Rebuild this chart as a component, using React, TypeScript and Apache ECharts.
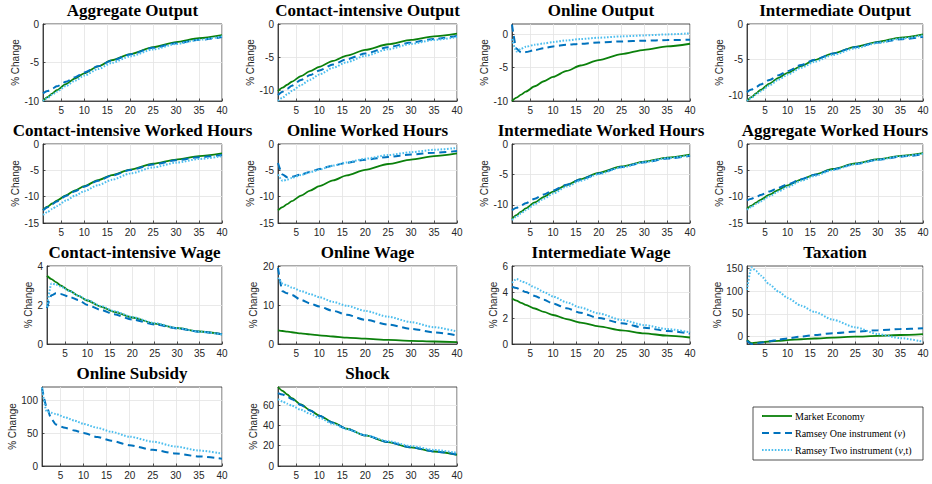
import React, { useEffect, useRef } from "react";
import * as echarts from "echarts";

// sampled periods (x positions of the read points)
const X = [1, 2, 3, 4, 6, 8, 10, 13, 16, 20, 25, 30, 35, 40];
const xTicks = [5, 10, 15, 20, 25, 30, 35, 40];

const seriesNames = ["Market Economy", "Ramsey One instrument (ν)", "Ramsey Two instrument (ν,t)"];

// 1 Aggregate Output
const aggOutMarket = [-10, -9.5, -9.05, -8.6, -7.8, -7.05, -6.4, -5.5, -4.7, -3.9, -3.0, -2.35, -1.85, -1.45];
const aggOutOne = [-9.0, -8.7, -8.4, -8.1, -7.5, -6.9, -6.3, -5.5, -4.75, -3.95, -3.1, -2.5, -2.05, -1.7];
const aggOutTwo = [-10, -9.6, -9.2, -8.8, -8.05, -7.35, -6.7, -5.85, -5.05, -4.2, -3.3, -2.6, -2.05, -1.6];
// 2 Contact-intensive Output
const ciOutMarket = [-10.1, -9.6, -9.15, -8.7, -7.85, -7.1, -6.45, -5.55, -4.75, -3.9, -3.05, -2.4, -1.85, -1.45];
const ciOutOne = [-10.7, -10.2, -9.75, -9.3, -8.45, -7.7, -7.0, -6.1, -5.3, -4.45, -3.5, -2.8, -2.25, -1.8];
const ciOutTwo = [-11.6, -11.1, -10.6, -10.1, -9.2, -8.4, -7.6, -6.6, -5.75, -4.8, -3.8, -3.0, -2.4, -1.95];
// 3 Online Output
const onOutMarket = [-10, -9.5, -9.05, -8.6, -7.8, -7.05, -6.4, -5.5, -4.7, -3.9, -3.0, -2.35, -1.85, -1.45];
const onOutOne = [1.4, -2.2, -2.75, -2.7, -2.4, -2.1, -1.85, -1.6, -1.45, -1.25, -1.1, -1.0, -0.9, -0.85];
const onOutTwo = [-0.75, -2.6, -2.2, -1.9, -1.6, -1.4, -1.2, -0.95, -0.75, -0.55, -0.35, -0.2, -0.05, 0.1];
// 4 Intermediate Output
const imOutMarket = [-10.8, -10.25, -9.75, -9.25, -8.35, -7.55, -6.85, -5.9, -5.05, -4.15, -3.2, -2.5, -1.9, -1.45];
const imOutOne = [-9.55, -9.2, -8.85, -8.5, -7.85, -7.2, -6.6, -5.75, -5.0, -4.15, -3.25, -2.6, -2.15, -1.8];
const imOutTwo = [-10.8, -10.35, -9.9, -9.45, -8.6, -7.8, -7.1, -6.15, -5.3, -4.35, -3.4, -2.65, -2.05, -1.6];
// 5 Contact-intensive Worked Hours
const ciHrsMarket = [-12.5, -11.9, -11.3, -10.75, -9.75, -8.8, -8.0, -6.85, -5.9, -4.85, -3.75, -2.95, -2.3, -1.8];
const ciHrsOne = [-12.6, -12.0, -11.45, -10.9, -9.85, -8.95, -8.1, -7.0, -6.0, -4.95, -3.9, -3.1, -2.5, -2.1];
const ciHrsTwo = [-13.5, -12.9, -12.35, -11.8, -10.75, -9.8, -8.95, -7.8, -6.8, -5.6, -4.45, -3.55, -2.85, -2.3];
// 6 Online Worked Hours
const onHrsMarket = [-12.6, -12.0, -11.4, -10.85, -9.8, -8.85, -8.0, -6.9, -5.95, -4.9, -3.8, -2.95, -2.3, -1.8];
const onHrsOne = [-3.6, -5.8, -6.3, -6.2, -5.8, -5.3, -4.75, -4.1, -3.55, -3.0, -2.45, -2.0, -1.65, -1.35];
const onHrsTwo = [-5.8, -7.0, -6.75, -6.45, -5.9, -5.35, -4.85, -4.1, -3.5, -2.8, -2.1, -1.55, -1.1, -0.75];
// 7 Intermediate Worked Hours
const imHrsMarket = [-12.3, -11.7, -11.15, -10.6, -9.6, -8.7, -7.85, -6.75, -5.8, -4.75, -3.7, -2.9, -2.25, -1.75];
const imHrsOne = [-10.9, -10.5, -10.1, -9.75, -9.0, -8.3, -7.65, -6.7, -5.85, -4.85, -3.8, -3.0, -2.4, -1.95];
const imHrsTwo = [-12.5, -11.95, -11.4, -10.9, -9.9, -9.0, -8.15, -7.0, -6.05, -4.95, -3.85, -3.0, -2.35, -1.85];
// 8 Aggregate Worked Hours
const aggHrsMarket = [-12.3, -11.7, -11.15, -10.6, -9.6, -8.7, -7.85, -6.75, -5.8, -4.75, -3.7, -2.9, -2.25, -1.75];
const aggHrsOne = [-10.7, -10.4, -10.05, -9.7, -9.0, -8.3, -7.65, -6.7, -5.85, -4.85, -3.8, -3.0, -2.4, -1.95];
const aggHrsTwo = [-12.5, -11.95, -11.4, -10.9, -9.9, -9.0, -8.15, -7.0, -6.05, -4.95, -3.85, -3.0, -2.35, -1.85];
// 9 Contact-intensive Wage
const ciWageMarket = [3.5, 3.33, 3.17, 3.01, 2.73, 2.47, 2.23, 1.92, 1.65, 1.36, 1.05, 0.82, 0.64, 0.5];
const ciWageOne = [1.85, 2.5, 2.6, 2.57, 2.42, 2.25, 2.0, 1.75, 1.52, 1.25, 1.0, 0.8, 0.63, 0.5];
const ciWageTwo = [1.9, 3.1, 3.05, 2.95, 2.72, 2.48, 2.25, 1.95, 1.68, 1.38, 1.07, 0.82, 0.63, 0.48];
// 10 Online Wage
const onWageMarket = [3.5, 3.33, 3.17, 3.01, 2.73, 2.47, 2.23, 1.92, 1.65, 1.36, 1.05, 0.82, 0.64, 0.5];
const onWageOne = [19.5, 13.5, 13.0, 12.6, 11.3, 10.4, 9.6, 8.5, 7.5, 6.2, 5.0, 3.9, 3.0, 2.2];
const onWageTwo = [17, 15.5, 15.0, 14.5, 13.6, 12.8, 12.0, 10.8, 9.8, 8.5, 7.0, 5.6, 4.3, 3.2];
// 11 Intermediate Wage
const imWageMarket = [3.5, 3.33, 3.17, 3.01, 2.73, 2.47, 2.23, 1.92, 1.65, 1.36, 1.05, 0.82, 0.64, 0.5];
const imWageOne = [4.4, 4.3, 4.15, 4.0, 3.7, 3.4, 3.1, 2.75, 2.4, 2.0, 1.6, 1.25, 1.0, 0.8];
const imWageTwo = [4.7, 5.0, 4.85, 4.7, 4.35, 4.0, 3.65, 3.2, 2.8, 2.35, 1.85, 1.45, 1.15, 0.9];
// 12 Taxation
const taxMarket = [-8, -15, -14, -13, -11.5, -10, -8.5, -6.5, -4.8, -2.8, -0.8, 1.0, 3.0, 5.0];
const taxOne = [-10, -17, -16, -14, -11, -7.5, -4.5, -0.5, 3, 7, 10.5, 13.5, 16, 18];
const taxTwo = [103, 153, 145, 135, 115, 99, 85, 68, 54, 37, 20, 5, -4, -12];
// 13 Online Subsidy
const subOne = [119, 90, 72, 63, 58, 54, 50, 44, 38.5, 31.5, 24.5, 19, 14.5, 11];
const subTwo = [119, 83, 81, 79, 74, 69, 64, 58, 52, 44.5, 37, 29.5, 23.5, 19];
// 14 Shock
const shockMarket = [78, 74.2, 70.6, 67.1, 60.7, 55.0, 49.8, 42.8, 36.8, 30.2, 23.5, 18.3, 14.3, 11.1];
const shockOne = [72, 70.5, 68.5, 66, 60.3, 54.7, 49.5, 42.7, 36.7, 30.2, 23.6, 18.4, 14.4, 11.2];
const shockTwo = [66, 63.5, 61.5, 59.5, 55.5, 51.5, 47.5, 41.5, 36.3, 30.5, 24.5, 19.7, 15.9, 13];

const panels = [
  { title: "Aggregate Output", min: -10, max: 0, ticks: [-10, -5, 0], data: [aggOutMarket, aggOutOne, aggOutTwo] },
  { title: "Contact-intensive Output", min: -11.6, max: 0, ticks: [-10, -5, 0], data: [ciOutMarket, ciOutOne, ciOutTwo] },
  { title: "Online Output", min: -10, max: 1.5, ticks: [-10, -5, 0], data: [onOutMarket, onOutOne, onOutTwo] },
  { title: "Intermediate Output", min: -10.8, max: 0, ticks: [-10, -5, 0], data: [imOutMarket, imOutOne, imOutTwo] },
  { title: "Contact-intensive Worked Hours", min: -15, max: 0, ticks: [-15, -10, -5, 0], data: [ciHrsMarket, ciHrsOne, ciHrsTwo] },
  { title: "Online Worked Hours", min: -15, max: 0, ticks: [-15, -10, -5, 0], data: [onHrsMarket, onHrsOne, onHrsTwo] },
  { title: "Intermediate Worked Hours", min: -13, max: 0, ticks: [-10, -5, 0], data: [imHrsMarket, imHrsOne, imHrsTwo] },
  { title: "Aggregate Worked Hours", min: -15, max: 0, ticks: [-15, -10, -5, 0], data: [aggHrsMarket, aggHrsOne, aggHrsTwo] },
  { title: "Contact-intensive Wage", min: 0, max: 4, ticks: [0, 2, 4], data: [ciWageMarket, ciWageOne, ciWageTwo] },
  { title: "Online Wage", min: 0, max: 20, ticks: [0, 10, 20], data: [onWageMarket, onWageOne, onWageTwo] },
  { title: "Intermediate Wage", min: 0, max: 6, ticks: [0, 2, 4, 6], data: [imWageMarket, imWageOne, imWageTwo] },
  { title: "Taxation", min: -17, max: 156, ticks: [0, 50, 100, 150], data: [taxMarket, taxOne, taxTwo] },
  { title: "Online Subsidy", min: 0, max: 120, ticks: [0, 50, 100], data: [null, subOne, subTwo] },
  { title: "Shock", min: 0, max: 78, ticks: [0, 20, 40, 60], data: [shockMarket, shockOne, shockTwo] },
];

// layout (pixels)
const colLeft = [43, 278, 512, 747];
const colRight = [222, 457, 690, 923];
const rowTop = [24, 144, 266, 387];
const rowBottom = [101, 223, 344, 466];
const leftOverride: Record<number, number> = { 8: 47, 12: 42 };
const nameGaps = [18, 18, 17, 19, 18, 19, 18, 18, 14, 16, 14, 21, 19, 14];

const COLORS = ["#0b800b", "#0072BD", "#4DBEEE"];
const LINE_TYPES: any[] = ["solid", [7, 4.5], [1.6, 1.6]];
const TXT = "#262626";
const SANS = "'Liberation Sans', Arial, Helvetica, sans-serif";
const SERIF = "'Liberation Serif', 'Times New Roman', serif";

// legend box (pixels)
const LEG = { x: 753, y: 407, w: 170, h: 53 };

export default function App() {
  const ref = useRef<HTMLDivElement>(null);
  useEffect(() => {
    if (!ref.current) return;
    const chart = echarts.init(ref.current, undefined, { renderer: "svg" });
    const grids: any[] = [];
    const xAxes: any[] = [];
    const yAxes: any[] = [];
    const series: any[] = [];
    const graphics: any[] = [];
    panels.forEach((p, i) => {
      const r = Math.floor(i / 4);
      const c = i % 4;
      const left = leftOverride[i] ?? colLeft[c];
      const right = colRight[c];
      const top = rowTop[r];
      const bottom = rowBottom[r];
      grids.push({
        left,
        top,
        width: right - left,
        height: bottom - top,
        show: true,
        borderColor: TXT,
        borderWidth: 0.8,
        backgroundColor: "#fff",
      });
      xAxes.push({
        type: "value",
        gridIndex: i,
        min: 1,
        max: 40,
        axisLine: { show: true, onZero: false, lineStyle: { color: TXT, width: 0.8 } },
        axisTick: { show: true, inside: true, length: 2.5, customValues: xTicks, lineStyle: { color: TXT, width: 0.8 } },
        axisLabel: { customValues: xTicks, color: TXT, fontSize: 10, fontFamily: SANS, margin: 4, showMinLabel: true, showMaxLabel: true },
        splitLine: { show: true, lineStyle: { color: "#e3e3e3", width: 0.8 } },
      });
      yAxes.push({
        type: "value",
        gridIndex: i,
        min: p.min,
        max: p.max,
        name: "% Change",
        nameLocation: "middle",
        nameGap: nameGaps[i],
        nameTextStyle: { color: TXT, fontSize: 10, fontFamily: SANS },
        axisLine: { show: true, onZero: false, lineStyle: { color: TXT, width: 0.8 } },
        axisTick: { show: true, inside: true, length: 2.5, customValues: p.ticks, lineStyle: { color: TXT, width: 0.8 } },
        axisLabel: { customValues: p.ticks, color: TXT, fontSize: 10, fontFamily: SANS, margin: 4, showMinLabel: true, showMaxLabel: true },
        splitLine: { show: true, lineStyle: { color: "#e3e3e3", width: 0.8 } },
      });
      p.data.forEach((arr, k) => {
        if (!arr) return;
        series.push({
          type: "line",
          name: seriesNames[k],
          xAxisIndex: i,
          yAxisIndex: i,
          data: X.map((x, j) => [x, arr[j]]),
          showSymbol: false,
          symbol: "none",
          smooth: 0.25,
          smoothMonotone: "x",
          clip: true,
          lineStyle: { color: COLORS[k], width: k === 0 ? 1.8 : 2, type: LINE_TYPES[k] },
          itemStyle: { color: COLORS[k] },
          z: 2 + k,
        });
      });
      graphics.push({
        type: "text",
        x: (left + right) / 2,
        y: top - 13.5,
        style: {
          text: p.title,
          textAlign: "center",
          textVerticalAlign: "middle",
          fontFamily: SERIF,
          fontWeight: "bold",
          fontSize: 17,
          fill: "#000",
        },
      });
    });

    // legend drawn as graphics (box, line samples, labels)
    graphics.push({
      type: "rect",
      shape: { x: LEG.x, y: LEG.y, width: LEG.w, height: LEG.h },
      style: { fill: "#fff", stroke: TXT, lineWidth: 0.8 },
      z: 10,
    });
    const legendLabels = [
      "{t|Market Economy}",
      "{t|Ramsey One instrument (}{i|ν}{t|)}",
      "{t|Ramsey Two instrument (}{i|ν}{t|,t)}",
    ];
    const legendDash: any[] = [null, [7, 4.5], [1.6, 1.6]];
    legendLabels.forEach((lab, k) => {
      const cy = LEG.y + 9 + k * 17;
      graphics.push({
        type: "line",
        shape: { x1: LEG.x + 9, y1: cy, x2: LEG.x + 39, y2: cy },
        style: { stroke: COLORS[k], lineWidth: k === 0 ? 1.8 : 2, lineDash: legendDash[k] },
        z: 11,
      });
      graphics.push({
        type: "text",
        x: LEG.x + 42,
        y: cy,
        style: {
          text: lab,
          textVerticalAlign: "middle",
          fontFamily: SERIF,
          fontSize: 10,
          fill: "#000",
          rich: {
            t: { fontFamily: SERIF, fontSize: 10, fill: "#000" },
            i: { fontStyle: "italic", fontFamily: SERIF, fontSize: 10, fill: "#000" },
          },
        },
        z: 11,
      });
    });

    chart.setOption({
      animation: false,
      backgroundColor: "#fff",
      grid: grids,
      xAxis: xAxes,
      yAxis: yAxes,
      series,
      graphic: graphics,
    });
    return () => chart.dispose();
  }, []);
  return <div ref={ref} style={{ position: "absolute", left: 0, top: 0, width: 932, height: 484 }} />;
}
